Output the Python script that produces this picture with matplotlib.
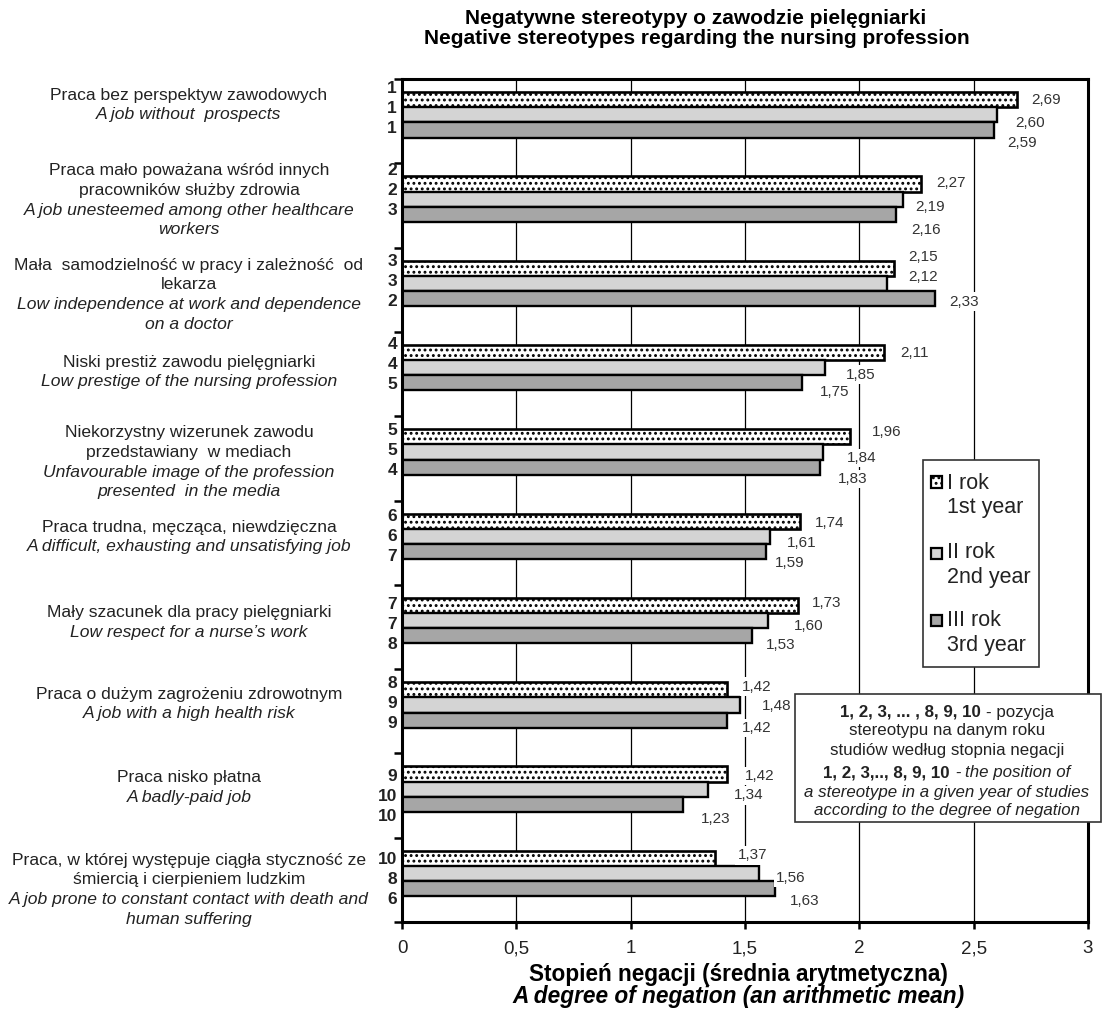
import matplotlib
matplotlib.use('Agg')
import matplotlib.pyplot as plt
from matplotlib import font_manager, transforms
from matplotlib.patches import Rectangle

# ---------------- data ----------------
categories_pl = [
    ["Praca bez perspektyw zawodowych"],
    ["Praca mało poważana wśród innych", "pracowników służby zdrowia"],
    ["Mała  samodzielność w pracy i zależność  od", "lekarza"],
    ["Niski prestiż zawodu pielęgniarki"],
    ["Niekorzystny wizerunek zawodu", "przedstawiany  w mediach"],
    ["Praca trudna, męcząca, niewdzięczna"],
    ["Mały szacunek dla pracy pielęgniarki"],
    ["Praca o dużym zagrożeniu zdrowotnym"],
    ["Praca nisko płatna"],
    ["Praca, w której występuje ciągła styczność ze", "śmiercią i cierpieniem ludzkim"],
]
categories_en = [
    ["A job without  prospects"],
    ["A job unesteemed among other healthcare", "workers"],
    ["Low independence at work and dependence", "on a doctor"],
    ["Low prestige of the nursing profession"],
    ["Unfavourable image of the profession", "presented  in the media"],
    ["A difficult, exhausting and unsatisfying job"],
    ["Low respect for a nurse\u2019s work"],
    ["A job with a high health risk"],
    ["A badly-paid job"],
    ["A job prone to constant contact with death and", "human suffering"],
]
year1 = [2.69, 2.27, 2.15, 2.11, 1.96, 1.74, 1.73, 1.42, 1.42, 1.37]
year2 = [2.60, 2.19, 2.12, 1.85, 1.84, 1.61, 1.60, 1.48, 1.34, 1.56]
year3 = [2.59, 2.16, 2.33, 1.75, 1.83, 1.59, 1.53, 1.42, 1.23, 1.63]
rank1 = [1, 2, 3, 4, 5, 6, 7, 8, 9, 10]
rank2 = [1, 2, 3, 4, 5, 6, 7, 9, 10, 8]
rank3 = [1, 3, 2, 5, 4, 7, 8, 9, 10, 6]
xticks = [0, 0.5, 1, 1.5, 2, 2.5, 3]
xtick_labels = ["0", "0,5", "1", "1,5", "2", "2,5", "3"]
series_names = [("I rok", "1st year"), ("II rok", "2nd year"), ("III rok", "3rd year")]

# ---------------- layout (pixels) ----------------
W, H = 1102, 1015
AX_L, AX_R, AX_T, AX_B = 402, 1088, 79, 922
GROUP_PX = (AX_B - AX_T) / 10.0
bar_offsets = [0.245, 0.425, 0.605]
bar_h = 0.18
label_center_px = [26, 37, 47, 40, 46, 36.5, 38, 35, 34, 52]
rank_first_px = [9, 7, 14, 13, 14, 16, 20, 14, 23, 22]
val_dx = [[29, 30, 29, 30, 37, 30, 29, 30, 33, 37],
          [34, 27, 36, 36, 39, 32, 41, 36, 40, 32],
          [28, 30, 29, 32, 32, 24, 29, 30, 32, 30]]
val_dy = [[0, -1, -11, 0, -5, 2, -2, -3, 2, -3],
          [8, 8, -6, 7, 6, 7, 5, 1, 6, 4],
          [13, 16, 3, 9, 12, 11, 9, 8, 15, 12]]

names = {f.name for f in font_manager.fontManager.ttflist}
BASE = 'Liberation Sans' if 'Liberation Sans' in names else 'DejaVu Sans'
NARROW = 'Liberation Sans Narrow' if 'Liberation Sans Narrow' in names else BASE
plt.rcParams['font.family'] = [BASE, 'DejaVu Sans']
plt.rcParams['hatch.linewidth'] = 1.3

TXT = '#222222'
fills = ['white', '#d4d4d4', '#a6a6a6']
hatches = ['...', None, None]

fig = plt.figure(figsize=(W / 100, H / 100), dpi=100)
ax = fig.add_axes([AX_L / W, 1 - AX_B / H, (AX_R - AX_L) / W, (AX_B - AX_T) / H])

series = [year1, year2, year3]
for k, vals in enumerate(series):
    ys = [i + bar_offsets[k] for i in range(len(vals))]
    ax.barh(ys, vals, height=bar_h, color=fills[k], edgecolor='black',
            linewidth=1.9 if k == 0 else 1.7, hatch=hatches[k], zorder=2)
    for i, v in enumerate(vals):
        ax.annotate(f"{v:.2f}".replace('.', ','), xy=(v, ys[i]),
                    xytext=(val_dx[k][i], -val_dy[k][i]), textcoords='offset pixels',
                    ha='center', va='center', fontsize=11, color='#333333', zorder=4,
                    bbox=dict(boxstyle='square,pad=0.15', fc='white', ec='none'))

ax.set_xlim(0, 3)
ax.set_ylim(10, 0)
ax.set_xticks(xticks)
ax.set_xticklabels(xtick_labels, fontsize=13.5, color=TXT, family=[NARROW, 'DejaVu Sans'])
ax.set_yticks(range(11))
ax.set_yticklabels([])
ax.tick_params(axis='y', direction='out', length=6, width=1.8, color='black')
ax.tick_params(axis='x', direction='out', length=5, width=1.8, color='black', pad=8)
ax.xaxis.grid(True, color='black', linewidth=0.9, zorder=0.5)
ax.set_axisbelow(True)
for sp in ax.spines.values():
    sp.set_linewidth(2.2)
    sp.set_color('black')

# category labels
blend = transforms.blended_transform_factory(fig.transFigure, ax.transData)
LINE = 19.7 / GROUP_PX
for i in range(10):
    lines = [(s, 'normal') for s in categories_pl[i]] + [(s, 'italic') for s in categories_en[i]]
    n = len(lines)
    yc = i + label_center_px[i] / GROUP_PX
    for j, (s, st) in enumerate(lines):
        y = yc + (j - (n - 1) / 2) * LINE
        ax.text(189 / W, y, s, transform=blend, ha='center', va='center',
                fontsize=12.6, style=st, color=TXT, clip_on=False)
    ranks = [rank1[i], rank2[i], rank3[i]]
    for k, r in enumerate(ranks):
        y = i + (rank_first_px[i] + 20 * k) / GROUP_PX
        ax.text(397 / W, y, str(r), transform=blend, ha='right', va='center',
                fontsize=12.5, fontweight='bold', color=TXT, clip_on=False)

# titles
def ftext(x, y, s, **kw):
    return fig.text(x / W, 1 - y / H, s, **kw)

ftext(696, 18, "Negatywne stereotypy o zawodzie pielęgniarki", ha='center', va='center',
      fontsize=15, fontweight='bold', family=[NARROW, 'DejaVu Sans'], color='black')
ftext(697, 39, "Negative stereotypes regarding the nursing profession", ha='center', va='center',
      fontsize=15, fontweight='bold', family=[NARROW, 'DejaVu Sans'], color='black')
ftext(738, 975, "Stopień negacji (średnia arytmetyczna)", ha='center', va='center',
      fontsize=16.3, fontweight='bold', family=[NARROW, 'DejaVu Sans'], color='black')
ftext(739, 997, "A degree of negation (an arithmetic mean)", ha='center', va='center',
      fontsize=16.3, fontweight='bold', style='italic', family=[NARROW, 'DejaVu Sans'], color='black')

# legend
fig.add_artist(Rectangle((923 / W, 1 - 667 / H), (1039 - 923) / W, (667 - 460) / H,
                         transform=fig.transFigure, fc='white', ec='#333333', lw=1.2, zorder=5))
leg_y = [(482, 483, 508), (553, 552, 577), (620, 620, 646)]
for k in range(3):
    sy, t1, t2 = leg_y[k]
    fig.add_artist(Rectangle((931 / W, 1 - (sy + 5.5) / H), 11 / W, 11 / H, transform=fig.transFigure,
                             fc=fills[k], ec='black', lw=1.6, hatch=hatches[k], zorder=6))
    ftext(947, t1, series_names[k][0], ha='left', va='center', fontsize=15.5, color=TXT, zorder=6)
    ftext(947, t2, series_names[k][1], ha='left', va='center', fontsize=15.5, color=TXT, zorder=6)

# note box
fig.add_artist(Rectangle((795 / W, 1 - 822 / H), (1101 - 795) / W, (822 - 694) / H,
                         transform=fig.transFigure, fc='white', ec='#333333', lw=1.2, zorder=5))
renderer = fig.canvas.get_renderer()

def width(s, **kw):
    t = fig.text(0, 0, s, **kw)
    w = t.get_window_extent(renderer).width
    t.remove()
    return w

def rich_line(xc, y, pieces, size):
    objs = []
    total = 0
    for s, kw in pieces:
        if s == ' ':
            w = width('a a', fontsize=size, **kw) - width('aa', fontsize=size, **kw)
            objs.append((None, w))
        else:
            t = ftext(0, y, s, fontsize=size, ha='left', va='center', color=TXT, zorder=6, **kw)
            w = t.get_window_extent(renderer).width
            objs.append((t, w))
        total += w
    x = xc - total / 2
    for t, w in objs:
        if t is not None:
            t.set_x(x / W)
        x += w

B = dict(fontweight='bold')
N = dict()
I = dict(style='italic')
NS = 12.2
rich_line(947, 712, [("1, 2, 3, ... , 8, 9, 10", B), (' ', N), ("- pozycja", N)], NS)
rich_line(947, 731, [("stereotypu na danym roku", N)], NS)
rich_line(947, 750, [("studiów według stopnia negacji", N)], NS)
rich_line(947, 773, [("1, 2, 3,.., 8, 9, 10", B), (' ', N), ("-", N), (' ', N), ("the position of", I)], NS)
rich_line(947, 792, [("a stereotype in a given year of studies", I)], NS)
rich_line(947, 811, [("according to the degree of negation", I)], NS)

fig.savefig('out.png', dpi=100)
